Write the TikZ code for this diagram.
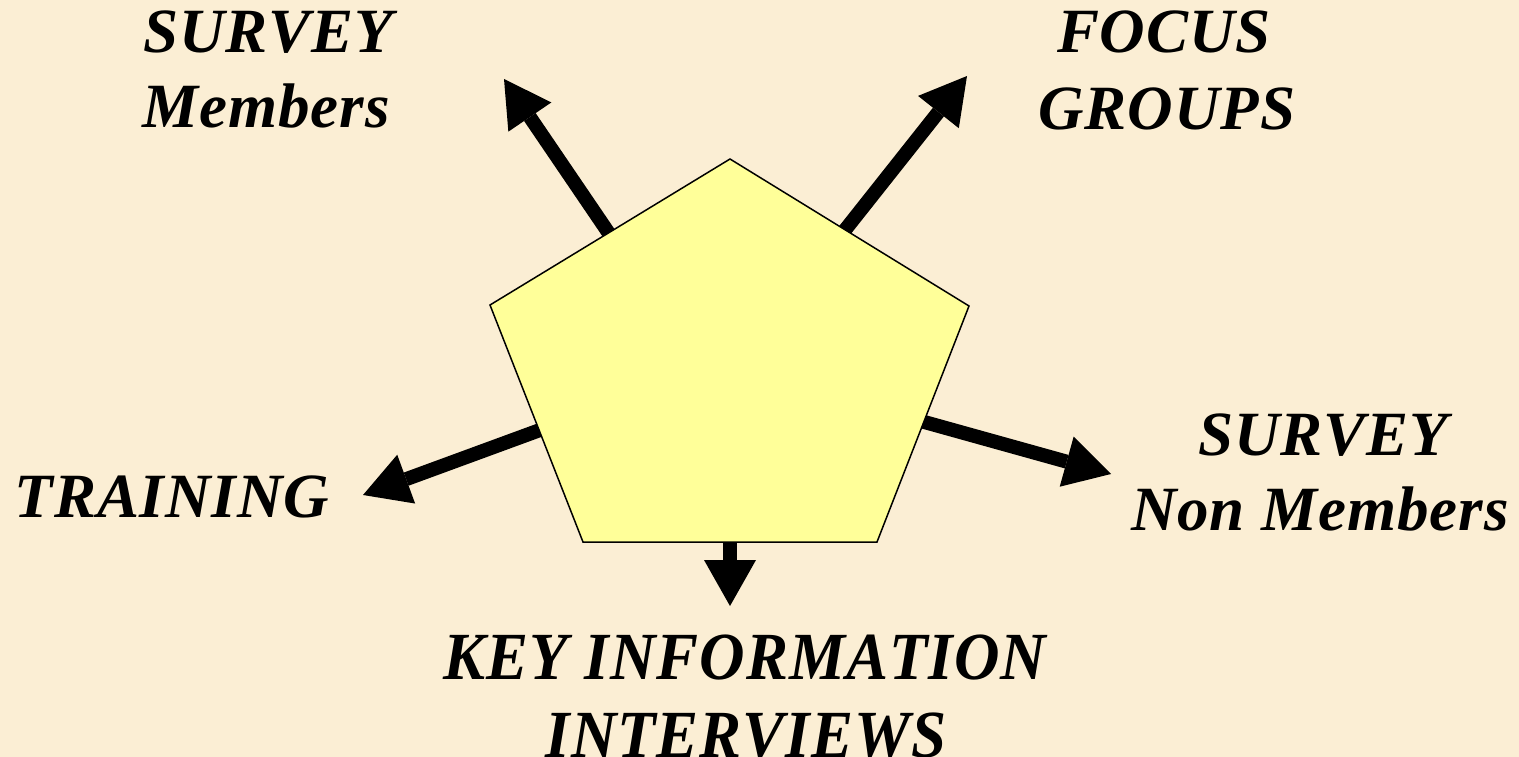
\documentclass[tikz,border=0pt]{standalone}
\usepackage{fontspec}
\setmainfont[Kerning=Off]{Liberation Serif}
\usetikzlibrary{arrows.meta}
\definecolor{bgcream}{RGB}{251,238,212}
\definecolor{pentfill}{RGB}{255,255,153}
\tikzset{
  lbl/.style={anchor=base, inner sep=0pt, font=\fontsize{63}{75}\selectfont\bfseries\itshape\addfontfeatures{LetterSpace=1.5}},
  spoke/.style={line width=14pt, -{Triangle[width=52pt,length=46pt,line width=0pt]}},
  pent/.style={draw=black, fill=pentfill, line width=1.5pt, line join=miter}
}
\begin{document}
\begin{tikzpicture}[x=1pt,y=-1pt]
\fill[bgcream] (0,0) rectangle (1519,757);
\useasboundingbox (0,0) rectangle (1519,757);
% pentagon corners
\coordinate (p1) at (730,159);
\coordinate (p2) at (969,306);
\coordinate (p3) at (877,542);
\coordinate (p4) at (583,542);
\coordinate (p5) at (490,305);
% hidden inner starts of spokes
\coordinate (sUL) at (712,385);
\coordinate (sUR) at (723,384);
\coordinate (sR) at (734,369);
\coordinate (sL) at (717,365);
\coordinate (sB) at (730,380);
% arrow tips
\coordinate (tUL) at (504,79);
\coordinate (tUR) at (967,76);
\coordinate (tR) at (1111,474);
\coordinate (tL) at (363,495);
\coordinate (tB) at (730,606);
\draw[spoke] (sUL) -- (tUL);
\draw[spoke] (sUR) -- (tUR);
\draw[spoke] (sR) -- (tR);
\draw[spoke] (sL) -- (tL);
\draw[spoke] (sB) -- (tB);
\draw[pent] (p1) -- (p2) -- (p3) -- (p4) -- (p5) -- cycle;
% labels
\node[lbl] (sm1) at (268,53) {SURVEY};
\node[lbl] (sm2) at (266,128) {Members};
\node[lbl] (fg1) at (1164,53) {FOCUS};
\node[lbl] (fg2) at (1167,130) {GROUPS};
\node[lbl] (sn1) at (1323,455) {SURVEY};
\node[lbl] (sn2) at (1320,530) {Non Members};
\node[lbl] (tr) at (172,517) {TRAINING};
\node[lbl, yscale=1.07, transform shape] (ki1) at (745,679) {KEY INFORMATION};
\node[lbl, yscale=1.07, transform shape] (ki2) at (746,757) {INTERVIEWS};
\end{tikzpicture}
\end{document}
